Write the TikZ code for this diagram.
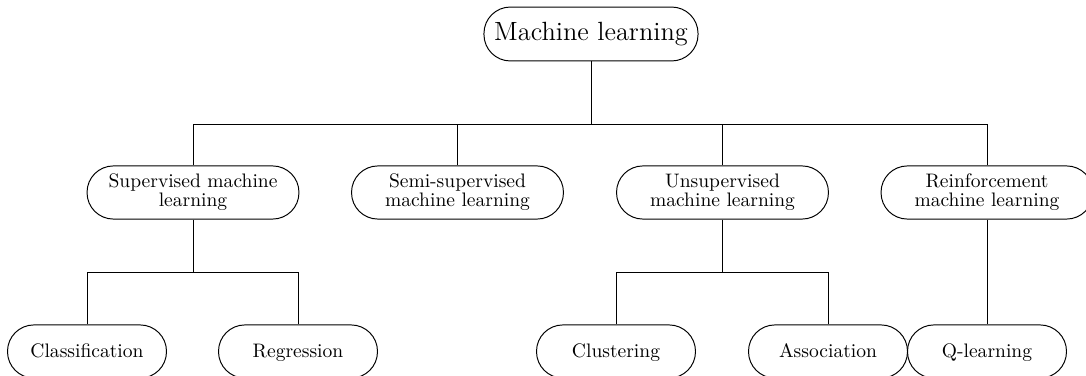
\documentclass[tikz,border=0pt]{standalone}
\begin{document}
\begin{tikzpicture}[x=0.512pt,y=-0.512pt, line width=0.5pt,
  pill/.style={draw, rounded corners=13.5pt, align=center, inner sep=0pt,
    minimum height=27.2pt, font=\fontsize{10pt}{9.7pt}\selectfont},
  rootbox/.style={pill, minimum width=109.6pt, minimum height=27.6pt,
    font=\fontsize{13.5pt}{15pt}\selectfont},
  midbox/.style={pill, minimum width=108.5pt},
  leafbox/.style={pill, minimum width=81.4pt, text height=7pt, text depth=0.4pt}]
\useasboundingbox (0,0) rectangle (1086,376);
\clip (0,0) rectangle (1086,376);

% root
\node[rootbox] (ml) at (591,34) {Machine learning};

% learning paradigms
\node[midbox] (sup)   at (193,192.5)   {Supervised machine\\learning};
\node[midbox] (semi)  at (457.5,192.5) {Semi-supervised\\machine learning};
\node[midbox] (unsup) at (722.5,192.5) {Unsupervised\\machine learning};
\node[midbox] (rl)    at (987,192.5)   {Reinforcement\\machine learning};

% methods
\node[leafbox] (cls)   at (87,351.5)  {Classification};
\node[leafbox] (reg)   at (298,351.5) {Regression};
\node[leafbox] (clu)   at (616,351.5) {Clustering};
\node[leafbox] (assoc) at (828,351.5) {Association};
\node[leafbox] (ql)    at (987,351.5) {Q-learning};

% junction points of the tree
\coordinate (bus)    at (591,124);
\coordinate (supbus) at (193,272);
\coordinate (unbus)  at (722.5,272);

% connectors
\draw (ml) -- (bus);
\draw (sup.north)   |- (bus);
\draw (semi.north)  |- (bus);
\draw (unsup.north) |- (bus);
\draw (rl.north)    |- (bus);

\draw (sup) -- (supbus);
\draw (cls.north) |- (supbus);
\draw (reg.north) |- (supbus);

\draw (unsup) -- (unbus);
\draw (clu.north)   |- (unbus);
\draw (assoc.north) |- (unbus);

\draw (rl) -- (ql);
\end{tikzpicture}
\end{document}
